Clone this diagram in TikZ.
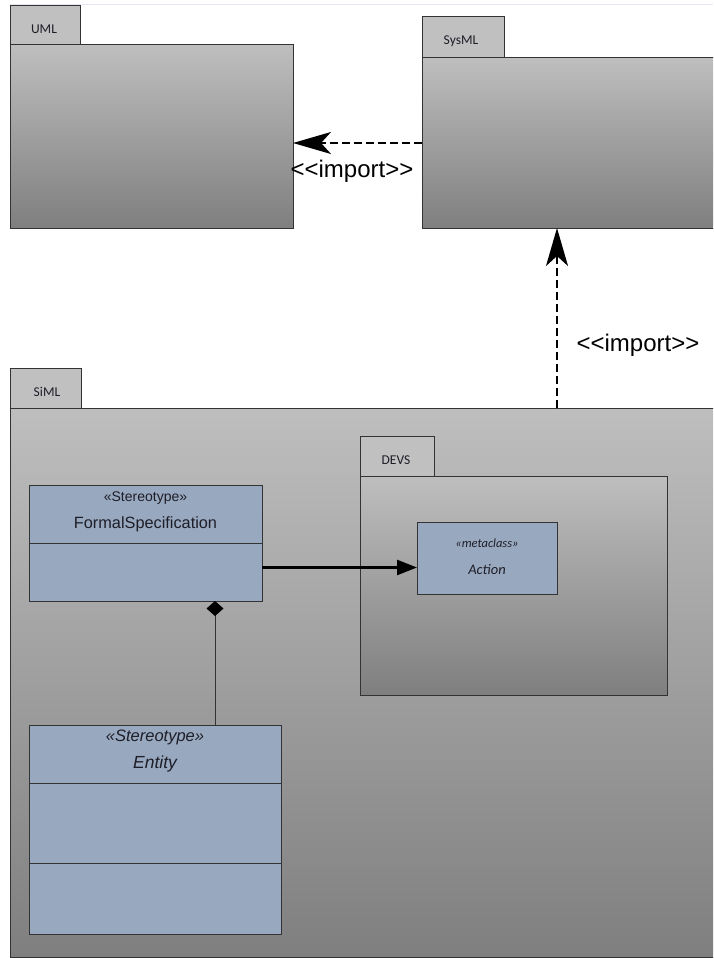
\documentclass[tikz,border=0pt]{standalone}
\usepackage{fontspec}
\usetikzlibrary{arrows.meta}
\newfontfamily\pkgfont{Carlito}
\newfontfamily\arialf{Liberation Sans}
\definecolor{pkgtop}{HTML}{BEBEBE}
\definecolor{pkgbot}{HTML}{7F7F7F}
\definecolor{tabfill}{HTML}{C0C0C0}
\definecolor{clsfill}{HTML}{98A8BF}
\definecolor{edge}{HTML}{333333}
\definecolor{faint}{HTML}{E4E9F0}
\definecolor{txt}{HTML}{1E1E28}
\begin{document}
\begin{tikzpicture}[x=1pt,y=-1pt,
  pkgbody/.style={draw=edge, line width=1pt, top color=pkgtop, bottom color=pkgbot, anchor=north west, inner sep=0pt, outer sep=0pt},
  pkgtab/.style={draw=edge, line width=1pt, fill=tabfill, anchor=north west, inner sep=0pt, outer sep=0pt},
  pkglabel/.style={font=\pkgfont\fontsize{13.5}{16}\selectfont, text=txt, inner sep=0pt},
  clsbox/.style={draw=edge, line width=1pt, fill=clsfill, anchor=north west, inner sep=0pt, outer sep=0pt},
  clstext/.style={font=\arialf\fontsize{16.3}{19}\selectfont, text=txt, inner sep=0pt},
  divider/.style={draw=edge, line width=1pt},
  importarrow/.style={line width=2.2pt, dash pattern=on 8pt off 4pt, -{Stealth[length=38pt,width=22pt,inset=10pt]}},
  importlbl/.style={font=\arialf\fontsize{24}{28}\selectfont, text=black, inner sep=0pt}
]
\useasboundingbox (0,0) rectangle (713,958);
\fill[white] (0,0) rectangle (713,958);
\clip (0,0) rectangle (713,958);
\draw[faint, line width=1pt] (10,5) -- (713,5);

% UML package
\node[pkgtab, minimum width=70pt, minimum height=39pt] (umltab) at (10,6) {};
\node[pkglabel] (umllbl) at (44,29) {UML};
\node[pkgbody, minimum width=283pt, minimum height=183pt] (uml) at (10,45) {};

% SysML package
\node[pkgtab, minimum width=82pt, minimum height=41pt] (sysmltab) at (422,17) {};
\node[pkglabel] (sysmllbl) at (461,41) {SysML};
\node[pkgbody, minimum width=300pt, minimum height=170pt] (sysml) at (422,58) {};

% SiML package
\node[pkgtab, minimum width=71pt, minimum height=40pt] (simltab) at (10,368) {};
\node[pkglabel] (simllbl) at (47,392) {SiML};
\node[pkgbody, minimum width=720pt, minimum height=549pt] (siml) at (10,408) {};

% DEVS package
\node[pkgtab, minimum width=74pt, minimum height=40pt] (devstab) at (360,436) {};
\node[pkglabel] (devslbl) at (396,460) {DEVS};
\node[pkgbody, minimum width=307pt, minimum height=219pt] (devs) at (360,476) {};

% FormalSpecification class
\node[clsbox, minimum width=233pt, minimum height=116pt] (fs) at (29,485) {};
\draw[divider] (29,543) -- (262,543);
\node[clstext, font=\arialf\fontsize{14}{17}\selectfont] (fsst) at (145.5,498) {«Stereotype»};
\node[clstext] (fsname) at (145.5,524) {FormalSpecification};

% Action metaclass
\node[clsbox, minimum width=140pt, minimum height=72pt] (action) at (417,522) {};
\node[clstext, font=\pkgfont\itshape\fontsize{12.5}{15}\selectfont] (actst) at (487,543) {«metaclass»};
\node[clstext, font=\pkgfont\itshape\fontsize{14.5}{17}\selectfont] (actname) at (487,570) {Action};

% Entity class
\node[clsbox, minimum width=252pt, minimum height=209pt] (entity) at (29,725) {};
\draw[divider] (29,783) -- (281,783);
\draw[divider] (29,863) -- (281,863);
\node[clstext, font=\arialf\itshape\fontsize{16.5}{19}\selectfont] (entst) at (155,737) {«Stereotype»};
\node[clstext, font=\arialf\itshape\fontsize{17.5}{20}\selectfont] (entname) at (155,764) {Entity};

% connectors
\coordinate (hy) at (0,143);
\coordinate (vx) at (557,0);
\coordinate (ay) at (0,567.5);
\coordinate (dx) at (215,0);
\draw[importarrow] (sysml.west |- hy) -- (uml.east |- hy);
\draw[importarrow] (siml.north -| vx) -- (sysml.south -| vx);
\draw[line width=2.4pt, -{Triangle[length=20pt,width=15pt]}] (fs.east |- ay) -- (action.west |- ay);
\draw[edge, line width=1pt, {Diamond[length=15pt,width=17pt,color=black,fill=black]}-] (fs.south -| dx) -- (entity.north -| dx);

\node[importlbl] (lbl1) at (352,171) {<<import>>};
\node[importlbl] (lbl2) at (638,345) {<<import>>};
\end{tikzpicture}
\end{document}
